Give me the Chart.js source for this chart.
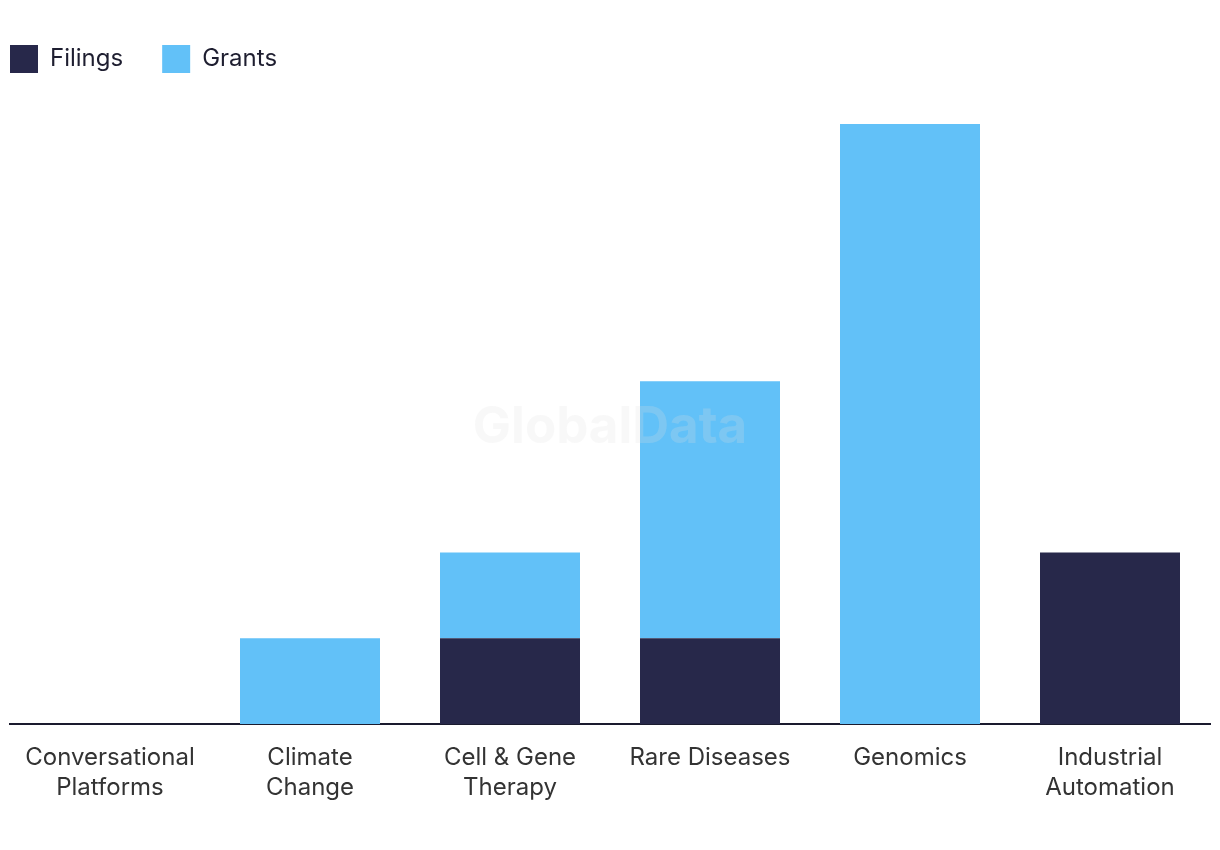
<!DOCTYPE html>
<html>
<head>
<meta charset="utf-8">
<script src="https://cdn.jsdelivr.net/npm/chart.js@4.4.1/dist/chart.umd.min.js"></script>
<style>
  html, body { margin: 0; padding: 0; background: #fff; }
  #wrap { width: 1220px; height: 850px; position: relative; }
</style>
</head>
<body>
<div id="wrap"><canvas id="chart"></canvas></div>
<script>
// --- data ---
const categories = [
  ["Conversational", "Platforms"],
  ["Climate", "Change"],
  ["Cell & Gene", "Therapy"],
  "Rare Diseases",
  "Genomics",
  ["Industrial", "Automation"],
];
const filings = [0, 0, 1, 1, 0, 2];
const grants = [0, 1, 1, 3, 7, 0];

const FONT = "Inter, 'Noto Sans', sans-serif";
const COLOR_FILINGS = "#27284a";
const COLOR_GRANTS = "#62c1f8";

// legend block is taller than Chart.js makes it by default
const legendHeightPlugin = {
  id: "legendHeight",
  beforeInit(chart) {
    const origFit = chart.legend.fit;
    chart.legend.fit = function () {
      origFit.call(this);
      this.height = 118;
    };
  },
};

// watermark in the middle, drawn above the bars
const watermarkPlugin = {
  id: "watermark",
  afterDatasetsDraw(chart) {
    const { ctx } = chart;
    ctx.save();
    ctx.font = "bold 51px " + FONT;
    ctx.textAlign = "center";
    ctx.textBaseline = "middle";
    ctx.fillStyle = "rgba(225,225,225,0.22)";
    ctx.fillText("GlobalData", 610, 428);
    ctx.restore();
  },
};

new Chart(document.getElementById("chart"), {
  type: "bar",
  data: {
    labels: categories,
    datasets: [
      { label: "Filings", data: filings, backgroundColor: COLOR_FILINGS },
      { label: "Grants", data: grants, backgroundColor: COLOR_GRANTS },
    ],
  },
  options: {
    responsive: true,
    maintainAspectRatio: false,
    animation: false,
    layout: { padding: { left: -29, right: 10, top: 6, bottom: 28 } },
    datasets: { bar: { barPercentage: 0.7, categoryPercentage: 1 } },
    plugins: {
      legend: {
        position: "top",
        align: "start",
        labels: {
          boxWidth: 28,
          boxHeight: 28,
          padding: 39,
          color: "#1e1e30",
          font: { family: FONT, size: 24 },
        },
      },
      tooltip: { enabled: false },
    },
    scales: {
      x: {
        stacked: true,
        grid: { display: false, drawTicks: false },
        border: { display: true, color: "#1a1a2e", width: 2 },
        ticks: {
          color: "#333",
          padding: 19,
          maxRotation: 0,
          autoSkip: false,
          font: { family: FONT, size: 24, lineHeight: 1.25 },
        },
      },
      y: {
        stacked: true,
        display: true,
        min: 0,
        max: 7,
        grid: { display: false, drawTicks: false },
        border: { display: false },
        ticks: { display: false },
        afterFit(scale) { scale.width = 39; },
      },
    },
  },
  plugins: [legendHeightPlugin, watermarkPlugin],
});
</script>
</body>
</html>
